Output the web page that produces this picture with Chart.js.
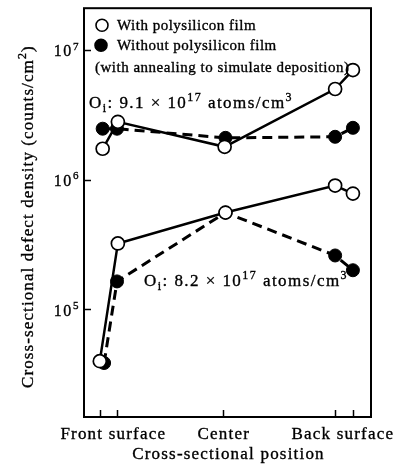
<!DOCTYPE html>
<html>
<head>
<meta charset="utf-8">
<script src="https://cdn.jsdelivr.net/npm/chart.js@4.4.1/dist/chart.umd.min.js"></script>
<style>
  html, body { margin: 0; padding: 0; background: #fff; }
</style>
</head>
<body>
<canvas id="defectChart" width="398" height="465"></canvas>
<script>
// position across the wafer, axis units (0 = front edge, 100 = back edge)
const positionTicks = [5.5, 11.5, 48.5, 87.5, 93.7];
const categories = ['Front surface', 'Center', 'Back surface'];
const categoryPos = [10.2, 48.7, 90.2];
const densityTicks = [1e5, 1e6, 1e7];
const densityExp = ['5', '6', '7'];

// Oi = 9.1e17 atoms/cm3
const highWithX = [6.5, 11.8, 49, 87.5, 93.7];
const highWithY = [1.73e6, 2.79e6, 1.79e6, 5.0e6, 7.0e6];
const highWithoutX = [6.5, 11.5, 49.3, 87.5, 93.7];
const highWithoutY = [2.47e6, 2.47e6, 2.1e6, 2.14e6, 2.51e6];

// Oi = 8.2e17 atoms/cm3
const lowWithX = [5.5, 11.8, 49.3, 87.5, 93.7];
const lowWithY = [3.98e4, 3.22e5, 5.57e5, 9.0e5, 7.8e5];
const lowWithoutX = [7.0, 11.5, 49.3, 87.5, 93.7];
const lowWithoutY = [3.85e4, 1.64e5, 5.57e5, 2.6e5, 2.0e5];

const serif = '"Liberation Serif", "Times New Roman", serif';

function pts(xs, ys) {
    return xs.map((x, i) => ({ x: x, y: ys[i] }));
}

function withFilm(xs, ys) {
    return {
        data: pts(xs, ys),
        borderColor: '#000',
        borderWidth: 2.5,
        pointRadius: 6.5,
        pointBorderWidth: 1.7,
        pointBackgroundColor: '#fff',
        pointBorderColor: '#000',
        tension: 0
    };
}

function withoutFilm(xs, ys) {
    return {
        data: pts(xs, ys),
        borderColor: '#000',
        borderWidth: 3,
        borderDash: [10, 6],
        pointRadius: 6.5,
        pointBorderWidth: 1,
        pointBackgroundColor: '#000',
        pointBorderColor: '#000',
        tension: 0
    };
}

// text with sub/superscripts: parts = [[text, 'n' | 'sub' | 'sup'], ...]
function richText(ctx, parts, x, y, size, spacing, draw) {
    let cx = x;
    ctx.lineWidth = 0.35;
    parts.forEach(function (p) {
        const small = p[1] !== 'n';
        const fs = small ? Math.round(size * 0.68) : size;
        const dy = p[1] === 'sup' ? -size * 0.42 : (p[1] === 'sub' ? size * 0.2 : 0);
        ctx.font = fs + 'px ' + serif;
        ctx.letterSpacing = spacing + 'px';
        if (draw !== false) {
            ctx.fillText(p[0], cx, y + dy);
            ctx.strokeText(p[0], cx, y + dy);
        }
        cx += ctx.measureText(p[0]).width;
    });
    return cx - x;
}

function circle(ctx, x, y, r, filled) {
    ctx.beginPath();
    ctx.arc(x, y, r, 0, Math.PI * 2);
    ctx.fillStyle = filled ? '#000' : '#fff';
    ctx.fill();
    ctx.lineWidth = 1.6;
    ctx.strokeStyle = '#000';
    ctx.stroke();
    ctx.fillStyle = '#000';
}

const framePlugin = {
    id: 'frame',
    beforeDatasetsDraw(chart) {
        const ctx = chart.ctx;
        const a = chart.chartArea;
        const xs = chart.scales.x, ys = chart.scales.y;
        ctx.save();
        ctx.strokeStyle = '#000';
        ctx.lineWidth = 2;
        ctx.strokeRect(a.left, a.top, a.right - a.left, a.bottom - a.top);
        ctx.lineWidth = 1.5;
        // inward ticks
        positionTicks.forEach(function (v) {
            const px = Math.round(xs.getPixelForValue(v)) + 0.5;
            ctx.beginPath();
            ctx.moveTo(px, a.bottom);
            ctx.lineTo(px, a.bottom - 7);
            ctx.stroke();
        });
        densityTicks.forEach(function (v) {
            const py = Math.round(ys.getPixelForValue(v)) + 0.5;
            ctx.beginPath();
            ctx.moveTo(a.left, py);
            ctx.lineTo(a.left + 7, py);
            ctx.stroke();
        });
        ctx.restore();
    },
    afterDraw(chart) {
        const ctx = chart.ctx;
        const a = chart.chartArea;
        const xs = chart.scales.x, ys = chart.scales.y;
        ctx.save();
        ctx.fillStyle = '#000';
        ctx.strokeStyle = '#000';
        ctx.textBaseline = 'alphabetic';
        ctx.textAlign = 'left';

        // y tick labels
        densityTicks.forEach(function (v, i) {
            const py = ys.getPixelForValue(v);
            const parts = [['10', 'n'], [densityExp[i], 'sup']];
            const w = richText(ctx, parts, 0, 0, 16, 1.6, false);
            richText(ctx, parts, a.left - 4 - w, py + 6.5, 16, 1.6);
        });

        // x category labels
        categories.forEach(function (c, i) {
            const px = xs.getPixelForValue(categoryPos[i]);
            const w = richText(ctx, [[c, 'n']], 0, 0, 17, 1.2, false);
            richText(ctx, [[c, 'n']], px - w / 2, a.bottom + 22, 17, 1.2);
        });

        // axis titles
        const xt = [['Cross-sectional position', 'n']];
        const xw = richText(ctx, xt, 0, 0, 17, 1.2, false);
        richText(ctx, xt, (a.left + a.right) / 2 + 1 - xw / 2, a.bottom + 42, 17, 1.2);

        const yt = [['Cross-sectional defect density (counts/cm', 'n'], ['2', 'sup'], [')', 'n']];
        const yw = richText(ctx, yt, 0, 0, 17, 1.1, false);
        ctx.save();
        ctx.translate(33, (a.top + a.bottom) / 2 + 4);
        ctx.rotate(-Math.PI / 2);
        richText(ctx, yt, -yw / 2, 0, 17, 1.1);
        ctx.restore();

        // legend
        circle(ctx, a.left + 18, a.top + 17, 6, false);
        richText(ctx, [['With polysilicon film', 'n']], a.left + 33, a.top + 22, 15, 0.5);
        circle(ctx, a.left + 17, a.top + 37, 6, true);
        richText(ctx, [['Without polysilicon film', 'n']], a.left + 33, a.top + 42, 15, 0.5);
        richText(ctx, [['(with annealing to simulate deposition)', 'n']], a.left + 11, a.top + 64, 15, 0.5);

        // oxygen concentration notes
        richText(ctx, [['O', 'n'], ['i', 'sub'], [': 9.1 \u00d7 10', 'n'], ['17', 'sup'], [' atoms/cm', 'n'], ['3', 'sup']],
            a.left + 5, a.top + 100, 17, 1.45);
        richText(ctx, [['O', 'n'], ['i', 'sub'], [': 8.2 \u00d7 10', 'n'], ['17', 'sup'], [' atoms/cm', 'n'], ['3', 'sup']],
            a.left + 60, a.top + 278, 17, 1.45);
        ctx.restore();
    }
};

new Chart(document.getElementById('defectChart'), {
    type: 'line',
    data: {
        datasets: [
            withFilm(highWithX, highWithY),
            withFilm(lowWithX, lowWithY),
            withoutFilm(highWithoutX, highWithoutY),
            withoutFilm(lowWithoutX, lowWithoutY)
        ]
    },
    options: {
        responsive: false,
        animation: false,
        layout: { padding: { top: 7, right: 27, left: 0, bottom: 0 } },
        plugins: { legend: { display: false }, tooltip: { enabled: false } },
        scales: {
            x: {
                type: 'linear', min: 0, max: 100,
                ticks: { display: false },
                grid: { display: false },
                border: { display: false },
                afterFit: function (s) { s.height = 48; }
            },
            y: {
                type: 'logarithmic', min: 1.476e4, max: 2.1e7,
                ticks: { display: false },
                grid: { display: false },
                border: { display: false },
                afterFit: function (s) { s.width = 84; }
            }
        }
    },
    plugins: [framePlugin]
});
</script>
</body>
</html>
